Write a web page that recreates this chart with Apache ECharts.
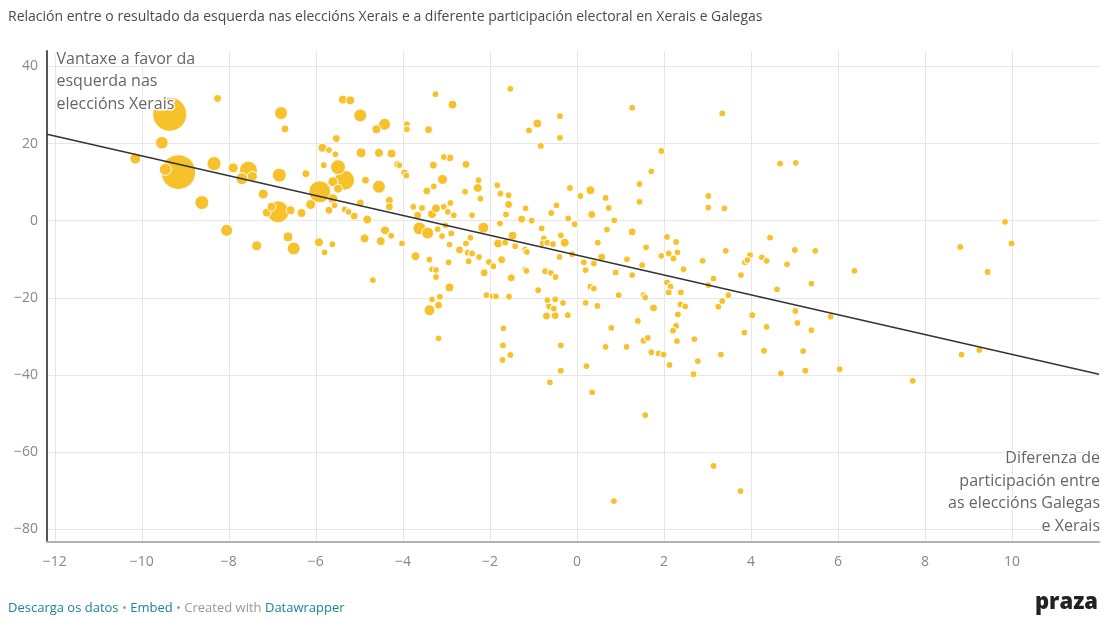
<!DOCTYPE html>
<html>
<head>
<meta charset="utf-8">
<script src="https://cdn.jsdelivr.net/npm/echarts@6/dist/echarts.min.js"></script>
<style>
  html, body { margin: 0; padding: 0; background: #fff; }
  #chart { width: 1102px; height: 619px; }
</style>
</head>
<body>
<div id="chart"></div>
<script>
// Diferenza de participación (x), vantaxe da esquerda (y), tamaño relativo (poboación)
const xs = [
 -8.26,-9.36,-9.54,-10.15,-9.16,-9.46,-8.34,-8.62,-8.05,-7.9,
 -6.80,-6.71,-5.38,-5.21,-4.98,-4.61,-4.42,-3.91,-3.91,-5.53,
 -5.85,-5.70,-5.55,-5.82,-4.96,-4.55,-4.26,-4.12,-4.08,-3.96,
 -3.92,-5.49,-5.34,-5.61,-5.49,-5.91,-5.61,-4.86,-4.55,-4.31,
 -4.31,-4.98,-4.82,-4.41,-4.27,-4.02,-4.51,-4.88,-4.69,-5.62,
 -5.80,-5.93,-6.51,-6.64,-7.36,-7.55,-7.70,-7.46,-7.21,-6.84,
 -6.23,-6.87,-7.13,-7.02,-6.58,-6.33,-6.12,-5.70,-5.57,-5.34,
 -5.25,-5.12,
 -3.25,-2.86,-3.41,-1.53,-0.91,-1.10,-0.39,-0.39,-0.83,-3.06,
 -2.92,-3.30,-2.55,-3.09,-3.29,-3.45,-2.26,-2.28,-2.22,-2.57,
 -1.83,-1.76,-1.57,-1.57,-1.63,-1.77,-1.18,-1.27,-1.04,-0.47,
 -0.59,-0.16,0.08,-0.20,-0.05,-3.76,-3.56,-3.66,-3.33,-3.24,
 -3.06,-2.91,-2.97,-2.83,-2.41,-3.62,-3.43,-3.20,-3.02,-3.10,
 -2.89,-3.71,-3.39,-3.33,-3.24,-3.24,-2.93,-2.95,-2.70,-2.55,
 -2.45,-2.51,-2.41,-2.49,-2.25,-2.15,-2.02,-2.13,-2.93,-3.15,
 -2.08,-1.94,-1.86,-1.92,-1.81,-1.73,-1.65,-1.48,-1.42,-1.19,
 -1.15,-1.51,-1.19,-1.16,-1.56,-0.89,-0.81,-0.76,-0.79,-0.68,
 -0.55,-0.37,-0.28,-0.11,-0.40,-0.73,-0.60,-0.49,0.16,0.20,
 -3.33,-3.18,-3.39,-3.18,-1.69,-1.70,-1.53,-1.71,-0.68,-0.50,
 -0.32,-0.64,-0.53,-0.70,-0.50,-0.21,0.20,-0.37,-0.37,-0.62,
 0.22,
 1.27,3.34,1.94,1.71,1.44,1.44,0.31,0.66,0.73,0.34,
 0.86,0.69,1.27,0.48,1.59,0.39,0.57,0.89,1.15,1.27,
 1.50,1.94,2.07,2.28,2.11,2.22,2.31,2.45,2.07,2.15,
 2.11,2.39,2.89,3.42,3.14,3.02,3.02,3.02,3.39,3.77,
 3.86,3.98,3.92,4.25,4.36,3.48,0.96,0.31,0.39,1.53,
 1.57,
 0.47,1.76,2.38,2.49,2.32,3.25,3.34,4.03,4.36,3.85,
 4.30,0.79,1.40,2.28,2.21,1.53,1.63,2.30,2.70,0.66,
 1.14,1.71,1.88,1.99,2.13,2.78,3.31,2.68,0.35,1.57,
 3.14,3.76,0.85,
 4.67,5.03,4.44,5.01,5.48,4.83,5.39,4.60,6.38,
 5.02,5.07,5.39,5.83,5.20,4.69,5.25,6.04,7.72,
 9.84,9.99,8.81,9.44,8.84,9.25
];
const ys = [
 31.7,27.6,20.2,16.1,12.6,13.3,14.8,4.7,-2.5,13.7,
 27.9,23.8,31.4,31.2,27.3,23.7,25.0,25.0,23.7,21.3,
 18.9,18.3,17.2,14.4,17.6,17.6,17.4,14.6,14.4,12.4,
 11.7,13.9,10.5,10.1,8.3,7.5,5.7,10.5,8.8,5.3,
 3.6,4.6,0.3,-2.5,-3.9,-5.9,-5.3,-4.6,-15.4,-6.1,
 -8.2,-5.6,-7.2,-4.2,-6.5,13.1,10.9,11.5,6.9,11.8,
 12.2,2.3,2.1,3.6,2.7,2.0,4.2,2.7,4.0,2.9,
 2.3,1.2,
 32.8,30.1,23.6,34.2,25.2,23.4,27.1,21.5,19.4,16.5,
 16.3,14.4,14.6,10.7,8.9,7.7,10.5,8.5,5.7,7.5,
 9.2,7.0,6.6,4.2,1.6,-0.7,3.2,0.4,0.0,4.0,
 2.0,8.5,6.4,0.6,-0.9,3.6,3.3,1.4,1.7,3.2,
 3.6,4.6,2.3,1.4,1.4,-2.0,-3.2,-2.2,-1.2,-4.0,
 -3.3,-9.2,-10.1,-12.6,-12.8,-14.6,-6.2,-10.8,-7.6,-5.9,
 -4.4,-8.3,-8.5,-10.5,-9.4,-1.8,-10.7,-13.5,-17.3,-19.7,
 -19.3,-19.6,-19.6,-11.8,-5.9,-10.1,-5.7,-3.9,-6.6,-7.5,
 -8.1,-14.8,-12.6,-13.0,-19.7,-18.0,-2.0,-4.6,-5.9,-5.7,
 -6.1,-3.8,-5.7,-8.7,-9.4,-13.1,-13.5,-14.6,-10.8,-12.8,
 -20.4,-21.9,-23.2,-30.5,-27.9,-32.3,-34.8,-36.1,-20.6,-20.4,
 -21.3,-22.2,-22.8,-24.7,-24.6,-24.5,-21.3,-32.3,-38.9,-41.9,
 -37.7,
 29.3,27.8,18.1,12.8,9.5,4.9,7.9,5.9,3.3,1.6,
 0.1,-2.3,-2.9,-5.7,-6.9,-11.1,-9.4,-13.4,-10.0,-14.1,
 -11.5,-9.1,-4.2,-5.5,-8.5,-9.8,-8.2,-12.6,-16.0,-17.1,
 -18.6,-18.6,-10.4,-7.8,-15.0,-16.7,6.4,3.4,3.2,-14.1,
 -10.8,-8.9,-10.2,-9.5,-10.4,-19.3,-19.3,-17.1,-17.6,-19.3,
 -19.9,
 -22.1,-22.6,-21.7,-22.2,-24.3,-22.3,-20.8,-24.5,-27.5,-29.0,
 -33.7,-27.8,-26.0,-27.3,-28.5,-31.1,-30.4,-31.2,-30.7,-32.7,
 -32.7,-34.1,-34.4,-34.7,-37.4,-36.4,-34.7,-39.8,-44.5,-50.4,
 -63.6,-70.1,-72.7,
 14.8,15.0,-4.4,-7.6,-7.8,-11.3,-16.3,-17.8,-13.0,
 -23.4,-26.5,-28.4,-24.9,-33.8,-39.6,-38.9,-38.5,-41.5,
 -0.3,-5.9,-6.8,-13.3,-34.7,-33.5
];
const pops = [
 16,290,40,30,300,36,50,49,36,25,
 42,16,20,20,42,20,36,12,12,16,
 20,12,12,9,25,20,20,16,12,16,
 12,56,100,25,20,121,25,16,42,16,
 16,16,20,20,9,9,20,20,9,9,
 9,20,42,25,25,81,36,25,25,49,
 16,121,20,20,20,20,25,16,9,12,
 12,16,
 9,20,16,9,20,9,9,9,9,12,
 16,16,16,25,12,16,12,20,12,12,
 12,12,9,16,12,12,9,16,12,9,
 9,9,9,9,9,12,12,16,20,20,
 12,12,9,12,12,42,36,12,9,12,
 9,20,12,12,12,12,9,12,16,12,
 9,9,9,9,12,30,9,16,20,9,
 9,9,9,9,20,16,9,20,9,9,
 9,16,9,9,9,9,9,9,9,9,
 9,9,20,9,9,9,9,9,9,9,
 12,16,30,9,9,9,9,9,9,12,
 9,9,9,16,16,9,12,9,9,9,
 9,
 9,9,9,9,12,12,20,9,12,16,
 9,9,16,9,12,9,16,9,9,9,
 9,9,9,9,9,9,9,12,9,9,
 9,9,9,9,9,9,9,9,9,9,
 9,9,9,9,9,9,9,9,9,9,
 9,
 9,16,9,9,9,9,9,9,9,9,
 9,9,9,9,9,9,9,9,9,9,
 9,9,9,9,9,9,9,9,9,9,
 9,9,9,
 12,9,12,9,9,9,9,9,9,
 9,9,12,12,9,9,9,12,9,
 9,9,9,9,9,9
];
// Liña de tendencia
const fitX = [-12.18, 12];
const fitY = [22.4, -39.8];

const xTickStep = 2;
const yTickStep = 20;

const FONT = '"Open Sans", "Noto Sans", sans-serif';
const minus = v => String(v).replace('-', '\u2212');

const points = xs.map((x, i) => [x, ys[i], pops[i]])
  .sort((a, b) => b[2] - a[2]);

const chart = echarts.init(document.getElementById('chart'), null, { renderer: 'canvas' });

chart.setOption({
  animation: false,
  backgroundColor: '#fff',
  textStyle: { fontFamily: FONT },
  grid: { left: 47, right: 0, top: 51, bottom: 77, containLabel: false },
  xAxis: {
    type: 'value',
    min: -12.18, max: 12,
    splitNumber: 12,
    axisLine: { show: true, onZero: false, lineStyle: { color: '#b3b3b3', width: 2 } },
    axisTick: { show: false },
    axisLabel: {
      color: '#888', fontSize: 14, fontFamily: FONT, margin: 13,
      formatter: v => {
        const r = Math.round(v);
        if (Math.abs(v - r) > 1e-6 || r % xTickStep !== 0 || r > 10) return '';
        return minus(r);
      }
    },
    splitLine: { show: true, showMaxLine: false, lineStyle: { color: '#e6e6e6', width: 1 } }
  },
  yAxis: {
    type: 'value',
    min: -83.3, max: 44,
    splitNumber: 6,
    axisLine: { show: true, onZero: false, lineStyle: { color: '#555', width: 2 } },
    axisTick: { show: false },
    axisLabel: {
      color: '#888', fontSize: 14, fontFamily: FONT, margin: 9,
      formatter: v => {
        const r = Math.round(v);
        if (Math.abs(v - r) > 1e-6 || r % yTickStep !== 0) return '';
        return minus(r);
      }
    },
    splitLine: { show: true, showMaxLine: false, showMinLine: false, lineStyle: { color: '#e6e6e6', width: 1 } }
  },
  series: [
    {
      type: 'scatter',
      data: points,
      symbolSize: v => Math.max(6.8, 2 * Math.sqrt(v[2])),
      itemStyle: { color: '#f7c12b', borderColor: '#ffffff', borderWidth: 1, opacity: 1 },
      z: 2
    },
    {
      type: 'line',
      data: fitX.map((x, i) => [x, fitY[i]]),
      symbol: 'none',
      lineStyle: { color: '#333', width: 1.5 },
      z: 3
    }
  ],
  graphic: [
    {
      type: 'text', left: 8, top: 10,
      style: {
        text: 'Relación entre o resultado da esquerda nas eleccións Xerais e a diferente participación electoral en Xerais e Galegas',
        fill: '#4a4a4a', font: '14px ' + FONT
      }
    },
    {
      type: 'text', left: 55, top: 48, z: 10,
      style: {
        text: 'Vantaxe a favor da\nesquerda nas\neleccións Xerais',
        fill: '#666', font: '16px ' + FONT, lineHeight: 22.5,
        stroke: '#fff', lineWidth: 3
      }
    },
    {
      type: 'text', x: 1100, y: 447, z: 10,
      style: {
        text: 'Diferenza de\nparticipación entre\nas eleccións Galegas\ne Xerais',
        fill: '#666', font: '16px ' + FONT, lineHeight: 22.7,
        align: 'right', textAlign: 'right', verticalAlign: 'top',
        stroke: '#fff', lineWidth: 3
      }
    },
    {
      type: 'text', left: 8, top: 602,
      style: {
        text: '{a|Descarga os datos}{g| • }{a|Embed}{g| • Created with }{a|Datawrapper}',
        font: '13px ' + FONT,
        rich: {
          a: { fill: '#1d81a2', fontSize: 13, fontFamily: FONT },
          g: { fill: '#999', fontSize: 13, fontFamily: FONT }
        }
      }
    },
    {
      type: 'text', right: 4, top: 592,
      style: {
        text: 'praza', fill: '#222',
        font: '900 22px ' + FONT
      }
    }
  ]
});
</script>
</body>
</html>
